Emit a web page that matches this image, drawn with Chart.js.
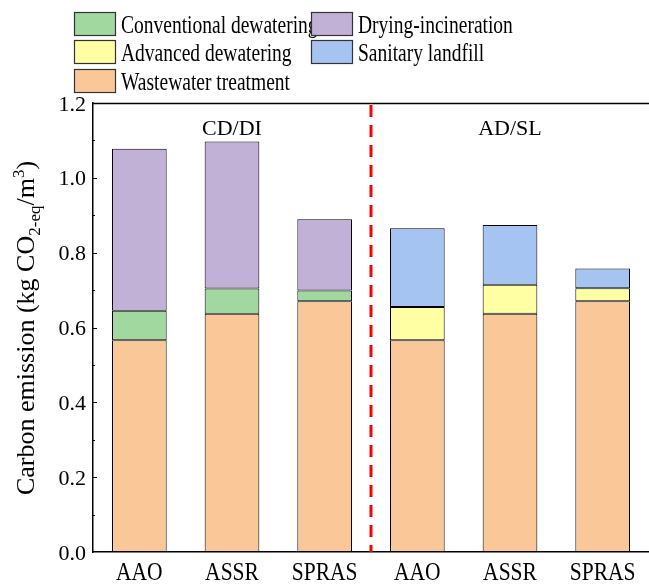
<!DOCTYPE html>
<html>
<head>
<meta charset="utf-8">
<script src="https://cdn.jsdelivr.net/npm/chart.js@4.4.1/dist/chart.umd.min.js"></script>
<style>
  html, body { margin: 0; padding: 0; background: #fff; }
  #wrap { width: 649px; height: 585px; position: relative; }
</style>
</head>
<body>
<div id="wrap"><canvas id="chart" width="649" height="585"></canvas></div>
<script>
// categories and group labels
const processes = ['AAO', 'ASSR', 'SPRAS', 'AAO', 'ASSR', 'SPRAS'];
const groupLabels = ['CD/DI', 'AD/SL'];

// carbon emission per stage (kg CO2-eq/m3)
const wastewaterTreatment = [0.566, 0.637, 0.670, 0.566, 0.637, 0.670];
const conventionalDewatering = [0.079, 0.067, 0.029, null, null, null];
const dryingIncineration = [0.433, 0.393, 0.190, null, null, null];
const advancedDewatering = [null, null, null, 0.089, 0.077, 0.035];
const sanitaryLandfill = [null, null, null, 0.210, 0.160, 0.053];

const yTicks = [0.0, 0.2, 0.4, 0.6, 0.8, 1.0, 1.2];

const FONT = '"Liberation Serif", "Times New Roman", serif';

const datasets = [
    { label: 'Wastewater treatment', data: wastewaterTreatment, backgroundColor: '#FAC898' },
    { label: 'Conventional dewatering', data: conventionalDewatering, backgroundColor: '#A0D89F' },
    { label: 'Drying-incineration', data: dryingIncineration, backgroundColor: '#C2B1D7' },
    { label: 'Advanced dewatering', data: advancedDewatering, backgroundColor: '#FFFFA3' },
    { label: 'Sanitary landfill', data: sanitaryLandfill, backgroundColor: '#A6C4F2' }
].map(d => Object.assign(d, {
    borderColor: '#000',
    borderWidth: 1,
    borderSkipped: false,
    barPercentage: 0.59,
    categoryPercentage: 1.0
}));

// legend in two columns, drawn on the canvas
const legendLayout = [
    ['Conventional dewatering', 74, 12], ['Drying-incineration', 311, 12],
    ['Advanced dewatering', 74, 40], ['Sanitary landfill', 311, 40],
    ['Wastewater treatment', 74, 69]
];

// text that is a bit narrower than the font (the source figure is squeezed sideways)
function squeezedText(ctx, text, x, y, size, sx, align) {
    ctx.save();
    ctx.font = size + 'px ' + FONT;
    ctx.textAlign = align || 'left';
    ctx.translate(x, y);
    ctx.scale(sx, 1);
    ctx.fillText(text, 0, 0);
    ctx.restore();
}

const decorPlugin = {
    id: 'decor',
    afterDraw(chart) {
        const ctx = chart.ctx;
        const area = chart.chartArea;
        const x = chart.scales.x;
        const y = chart.scales.y;
        ctx.save();

        // frame top line
        ctx.strokeStyle = '#000';
        ctx.lineWidth = 1.5;
        ctx.beginPath();
        ctx.moveTo(area.left, area.top + 0.5);
        ctx.lineTo(area.right, area.top + 0.5);
        ctx.stroke();

        // inward ticks on y axis
        ctx.lineWidth = 1;
        for (let v = 0.1; v < 1.2; v += 0.1) {
            const py = Math.round(y.getPixelForValue(v)) + 0.5;
            const major = Math.round(v * 10) % 2 === 0;
            ctx.beginPath();
            ctx.moveTo(area.left, py);
            ctx.lineTo(area.left + (major ? 4 : 2), py);
            ctx.stroke();
        }

        // red dashed separator
        const sepX = (x.getPixelForValue(2) + x.getPixelForValue(3)) / 2;
        ctx.strokeStyle = '#FF0000';
        ctx.lineWidth = 3;
        ctx.setLineDash([12, 8]);
        ctx.beginPath();
        ctx.moveTo(sepX, area.top + 2);
        ctx.lineTo(sepX, area.bottom);
        ctx.stroke();
        ctx.setLineDash([]);

        ctx.fillStyle = '#000';
        ctx.textBaseline = 'alphabetic';

        // y tick labels
        yTicks.forEach(v => {
            squeezedText(ctx, v.toFixed(1), area.left - 7, y.getPixelForValue(v) + 7.5, 22, 1, 'right');
        });

        // x category labels
        processes.forEach((p, i) => {
            squeezedText(ctx, p, x.getPixelForValue(i), 580, 25, 0.86, 'center');
        });

        // group labels
        squeezedText(ctx, groupLabels[0], x.getPixelForValue(1), 135, 22, 1, 'center');
        squeezedText(ctx, groupLabels[1], x.getPixelForValue(4), 135, 22, 1, 'center');

        // legend
        legendLayout.forEach(([name, lx, ly]) => {
            const ds = chart.data.datasets.find(d => d.label === name);
            ctx.fillStyle = ds.backgroundColor;
            ctx.fillRect(lx, ly, 42, 24);
            ctx.strokeStyle = '#333';
            ctx.lineWidth = 1.2;
            ctx.strokeRect(lx + 0.5, ly + 0.5, 41, 23);
            ctx.fillStyle = '#000';
            squeezedText(ctx, name, lx + 47, ly + 21, 25, 0.78, 'left');
        });

        // y axis title with subscript / superscript
        ctx.translate(34, 328);
        ctx.rotate(-Math.PI / 2);
        const parts = [
            ['Carbon emission (kg CO', 26, 0],
            ['2-eq', 17, 6],
            ['/m', 26, 0],
            ['3', 17, -10],
            [')', 26, 0]
        ];
        ctx.textAlign = 'left';
        let total = 0;
        parts.forEach(([t, s]) => { ctx.font = s + 'px ' + FONT; total += ctx.measureText(t).width; });
        let cx = -total / 2;
        parts.forEach(([t, s, dy]) => {
            ctx.font = s + 'px ' + FONT;
            ctx.fillText(t, cx, dy);
            cx += ctx.measureText(t).width;
        });
        ctx.restore();
    }
};

new Chart(document.getElementById('chart'), {
    type: 'bar',
    data: { labels: processes, datasets: datasets },
    options: {
        responsive: false,
        animation: false,
        layout: { padding: { top: 103, right: 0, left: 0, bottom: 0 } },
        plugins: {
            legend: { display: false },
            tooltip: { enabled: false }
        },
        scales: {
            x: {
                stacked: true,
                grid: { display: false, drawTicks: false },
                border: { display: true, color: '#000', width: 1.5 },
                ticks: { display: false },
                afterFit: s => { s.height = 33; }
            },
            y: {
                stacked: true,
                min: 0,
                max: 1.2,
                afterBuildTicks: s => { s.ticks = yTicks.map(v => ({ value: v })); },
                grid: { display: false, drawTicks: false },
                border: { display: true, color: '#000', width: 1.5 },
                ticks: { display: false },
                afterFit: s => { s.width = 93; }
            }
        }
    },
    plugins: [decorPlugin]
});
</script>
</body>
</html>
